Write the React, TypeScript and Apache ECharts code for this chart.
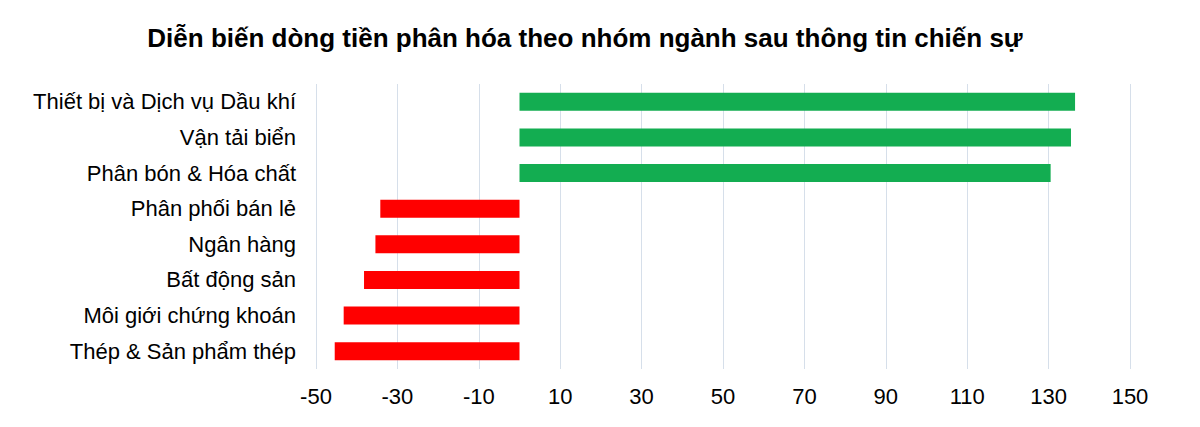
import {useEffect, useRef} from 'react';
import * as echarts from 'echarts';

const titleText = 'Diễn biến dòng tiền phân hóa theo nhóm ngành sau thông tin chiến sự';

const sectors = [
    'Thiết bị và Dịch vụ Dầu khí',
    'Vận tải biển',
    'Phân bón & Hóa chất',
    'Phân phối bán lẻ',
    'Ngân hàng',
    'Bất động sản',
    'Môi giới chứng khoán',
    'Thép & Sản phẩm thép',
];

const flows = [136.5, 135.5, 130.5, -34.2, -35.4, -38.2, -43.2, -45.4];

const xMin = -50;
const xMax = 150;
const xStep = 10;
// labelled ticks and gridlines every 20, starting at -50
const gridTicks = [-50, -30, -10, 10, 30, 50, 70, 90, 110, 130, 150];

const positiveColor = '#13ad51';
const negativeColor = '#ff0000';
const font = 'Liberation Sans, Arial, sans-serif';

export default function App() {
    const chartRef = useRef<HTMLDivElement | null>(null);

    useEffect(() => {
        document.body.style.margin = '0';
        const el = chartRef.current;
        if (!el) return;
        const chart = echarts.init(el, null, {renderer: 'svg'});
        chart.setOption({
            animation: false,
            backgroundColor: '#ffffff',
            title: {
                text: titleText,
                left: 580,
                top: 20,
                textAlign: 'center',
                textStyle: {fontFamily: font, fontSize: 26, fontWeight: 'bold', color: '#000'},
            },
            grid: {left: 316, right: 70, top: 84, bottom: 58},
            xAxis: {
                type: 'value',
                min: xMin,
                max: xMax,
                interval: xStep,
                axisLine: {show: false},
                axisTick: {show: false},
                splitLine: {show: false},
                axisLabel: {
                    margin: 16,
                    color: '#000',
                    fontFamily: font,
                    fontSize: 22,
                    formatter: (v: number) => (gridTicks.includes(v) ? String(v) : ''),
                },
            },
            yAxis: {
                type: 'category',
                data: sectors,
                inverse: true,
                axisLine: {show: false},
                axisTick: {show: false},
                axisLabel: {margin: 20, color: '#000', fontFamily: font, fontSize: 22},
            },
            series: [
                {
                    type: 'bar',
                    barWidth: 18,
                    z: 3,
                    data: flows.map((v) => ({
                        value: v,
                        itemStyle: {color: v >= 0 ? positiveColor : negativeColor},
                    })),
                    markLine: {
                        silent: true,
                        symbol: 'none',
                        label: {show: false},
                        lineStyle: {type: 'solid', color: '#d6dfea', width: 1},
                        z: 1,
                        data: gridTicks.map((t) => ({xAxis: t})),
                    },
                },
            ],
        });
        return () => chart.dispose();
    }, []);

    return <div ref={chartRef} style={{width: '1200px', height: '427px'}}/>;
}
